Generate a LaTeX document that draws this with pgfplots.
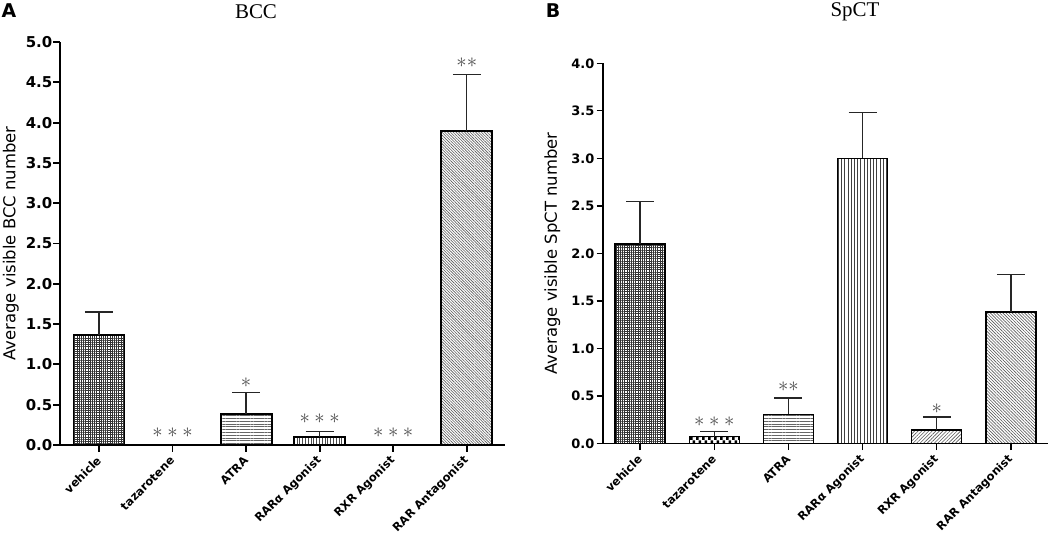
\documentclass[border=0pt]{standalone}
\usepackage{pgfplots}
\pgfplotsset{compat=1.18}
\usepackage{fontspec}
\setmainfont{DejaVu Sans}
\newfontfamily\timesf{Liberation Serif}
\usetikzlibrary{patterns,patterns.meta}
\pgfdeclarepatternformonly{checker}{\pgfqpoint{0pt}{0pt}}{\pgfqpoint{6bp}{6bp}}{\pgfqpoint{6bp}{6bp}}{%
  \pgfpathrectangle{\pgfqpoint{0pt}{0pt}}{\pgfqpoint{3bp}{3bp}}%
  \pgfpathrectangle{\pgfqpoint{3bp}{3bp}}{\pgfqpoint{3bp}{3bp}}%
  \pgfusepath{fill}}
\newcommand{\fs}[1]{\fontsize{#1}{#1}\selectfont}
\tikzset{ast/.style={font=\fs{22}, text=black!70}}
\pgfplotsset{
  panel/.style={
    scale only axis,
    axis x line*=bottom, axis y line*=left,
    xtick={0,1,2,3,4,5},
    xticklabels={vehicle,tazarotene,ATRA,RARα Agonist,RXR Agonist,RAR Antagonist},
    ymin=0,
    yticklabel style={/pgf/number format/fixed,/pgf/number format/precision=1,/pgf/number format/fixed zerofill},
    /pgf/number format/assume math mode=true,
    tick align=outside,
    major tick length=6.5bp,
    minor tick num=0,
    clip=false,
  },
  bb/.style={ybar, bar shift=0pt, draw=black},
  eb/.style={draw=none, mark=none, forget plot,
    error bars/.cd, y dir=plus, y explicit,
    error bar style={line width=1.3bp, draw=black!85},
    error mark options={rotate=90, mark size=14bp, line width=1.3bp, draw=black!85}},
}
\begin{document}
\begin{tikzpicture}
\useasboundingbox (0,0) rectangle (1050bp,536bp);
\node[font=\bfseries\fs{19}] at (9bp,525bp) {A};
\node[font=\bfseries\fs{19}] at (553bp,525bp) {B};
\node[font=\timesf\fs{21}] at (256bp,524bp) {BCC};
\node[font=\timesf\fs{21}] at (855bp,524bp) {SpCT};

% ---------- Panel A ----------
\begin{axis}[panel,
  at={(60bp,91bp)}, anchor=south west, width=445bp, height=403bp,
  xmin=-0.53, xmax=5.52, ymax=5,
  ytick={0,0.5,...,5.01},
  axis line style={line width=1.9bp},
  tick style={line width=1.9bp, black},
  yticklabel style={font=\bfseries\fs{15}, inner sep=1bp},
  xticklabel style={font=\bfseries\fs{11.5}, yshift=-7bp, rotate=45, anchor=east, inner sep=0pt},
  ylabel={Average visible BCC number},
  ylabel style={font=\fs{16.5}},
  ylabel shift=2.5bp,
  bar width=51bp,
]
\addplot[bb, line width=1.9bp, pattern={Hatch[distance=2.2bp, line width=0.8bp]}, pattern color=black!80] coordinates {(0,1.37)};
\addplot[bb, line width=1.9bp, pattern={Lines[angle=0, distance=2.8bp, line width=0.6bp]}, pattern color=black!60] coordinates {(2,0.385)};
\addplot[bb, line width=1.9bp, pattern={Lines[angle=90, distance=2.8bp, line width=0.6bp]}, pattern color=black!70] coordinates {(3,0.095)};
\addplot[bb, line width=1.9bp, pattern={Lines[angle=-45, distance=2bp, line width=0.6bp]}, pattern color=black!65] coordinates {(5,3.9)};
\addplot[eb] coordinates {(0,1.37) +- (0,0.28) (2,0.385) +- (0,0.27) (3,0.095) +- (0,0.075) (5,3.9) +- (0,0.70)};
\node[ast] at (axis cs:1,0.15) {$\ast\ast\ast$};
\node[ast] at (axis cs:2,0.77) {$\ast$};
\node[ast] at (axis cs:3,0.33) {$\ast\ast\ast$};
\node[ast] at (axis cs:4,0.15) {$\ast\ast\ast$};
\node[ast] at (axis cs:5,4.74) {$\ast\ast$};
\end{axis}

% ---------- Panel B ----------
\begin{axis}[panel,
  at={(603bp,92.3bp)}, anchor=south west, width=445bp, height=380.4bp,
  xmin=-0.5, xmax=5.5, ymax=4,
  ytick={0,0.5,...,4.01},
  axis line style={line width=1.3bp},
  tick style={line width=1.3bp, black},
  yticklabel style={font=\bfseries\fs{13}, inner sep=2bp},
  xticklabel style={font=\bfseries\fs{11.5}, yshift=-7bp, rotate=45, anchor=east, inner sep=0pt},
  ylabel={Average visible SpCT number},
  ylabel style={font=\fs{16.5}},
  ylabel shift=5.5bp,
  bar width=50bp,
]
\addplot[bb, line width=1.3bp, pattern={Hatch[distance=2.2bp, line width=0.8bp]}, pattern color=black!80] coordinates {(0,2.10)};
\addplot[bb, line width=1.3bp, pattern=checker, pattern color=black] coordinates {(1,0.075)};
\addplot[bb, line width=1.3bp, pattern={Lines[angle=0, distance=2.8bp, line width=0.6bp]}, pattern color=black!60] coordinates {(2,0.31)};
\addplot[bb, line width=1.3bp, pattern={Lines[angle=90, distance=3.2bp, line width=0.7bp]}, pattern color=black!75] coordinates {(3,3.0)};
\addplot[bb, line width=1.3bp, pattern={Lines[angle=45, distance=2.5bp, line width=0.6bp]}, pattern color=black!65] coordinates {(4,0.145)};
\addplot[bb, line width=1.3bp, pattern={Lines[angle=-45, distance=2.2bp, line width=0.6bp]}, pattern color=black!65] coordinates {(5,1.385)};
\addplot[eb] coordinates {(0,2.10) +- (0,0.45) (1,0.075) +- (0,0.05) (2,0.31) +- (0,0.17) (3,3.0) +- (0,0.48) (4,0.145) +- (0,0.135) (5,1.385) +- (0,0.395)};
\node[ast] at (axis cs:1,0.23) {$\ast\ast\ast$};
\node[ast] at (axis cs:2,0.60) {$\ast\ast$};
\node[ast] at (axis cs:4,0.37) {$\ast$};
\end{axis}
\end{tikzpicture}
\end{document}
